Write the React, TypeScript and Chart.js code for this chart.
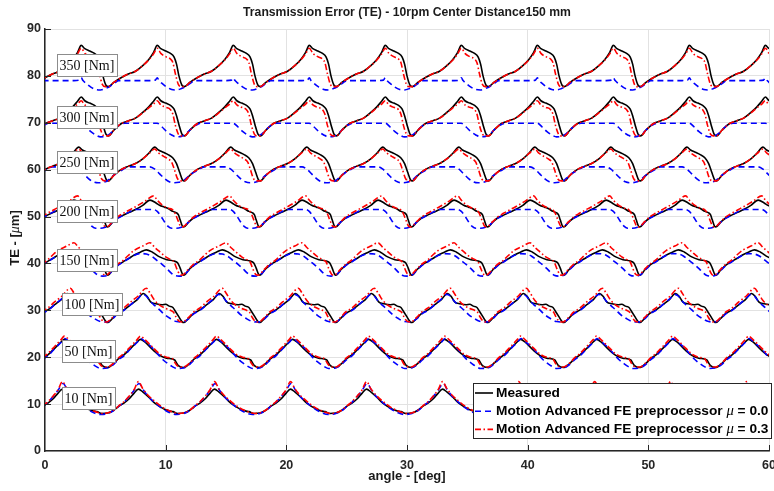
import { useEffect, useRef } from 'react';
import { Chart, registerables } from 'chart.js';
Chart.register(...registerables);

// ---- data ----
const PITCH_DEG = 6.3; // tooth pitch, the curves repeat every tooth
const X_MIN = 0, X_MAX = 60, Y_MIN = 0, Y_MAX = 90;

const LOAD_LABELS = ['350 [Nm]', '300 [Nm]', '250 [Nm]', '200 [Nm]', '150 [Nm]', '100 [Nm]', '50 [Nm]', '10 [Nm]'];
const LABEL_X = [0.97, 0.97, 0.97, 0.97, 0.97, 1.38, 1.38, 1.38];
const LABEL_Y = [82.3, 71.2, 61.7, 51.2, 40.8, 31.4, 21.3, 11.3];

// one tooth profile per series: [phase deg, TE um]
const measured350 = [[0.0,79.6],[0.6,80.4],[1.2,81.0],[1.8,82.2],[2.3,83.5],[2.7,85.0],[3.0,86.5],[3.3,85.8],[3.7,85.3],[4.1,84.8],[4.4,84.0],[4.6,82.5],[4.8,80.0],[5.05,78.0],[5.25,77.7],[5.7,78.6]];
const mu03_350 = [[0.0,79.6],[0.6,80.4],[1.2,81.0],[1.8,82.2],[2.3,83.4],[2.7,84.7],[3.0,85.9],[3.3,84.8],[3.7,84.1],[4.1,83.6],[4.3,82.8],[4.5,80.5],[4.75,78.2],[5.0,77.7],[5.25,77.7],[5.7,78.6]];
const mu00_350 = [[0.0,79.0],[0.6,79.0],[1.2,79.0],[1.8,79.0],[2.4,79.0],[2.85,79.1],[3.0,79.6],[3.15,79.0],[3.4,78.4],[3.8,77.6],[4.2,77.1],[4.6,77.0],[5.0,77.3],[5.4,77.8],[5.8,78.5],[6.1,79.0]];

const measured300 = [[0.0,69.8],[0.6,70.4],[1.2,71.0],[1.8,72.2],[2.3,73.4],[2.7,74.6],[3.0,75.5],[3.3,74.7],[3.7,74.2],[4.1,73.7],[4.4,72.9],[4.6,71.5],[4.8,69.6],[5.05,67.6],[5.25,67.2],[5.7,68.4]];
const mu03_300 = [[0.0,69.8],[0.6,70.4],[1.2,71.0],[1.8,72.1],[2.3,73.2],[2.7,74.0],[3.0,74.7],[3.3,73.8],[3.7,73.3],[4.1,72.8],[4.3,71.8],[4.5,69.5],[4.75,67.6],[5.0,67.2],[5.25,67.2],[5.7,68.4]];
const mu00_300 = [[0.0,69.6],[0.3,69.9],[1.2,69.9],[2.4,69.9],[3.0,69.9],[3.4,69.1],[3.8,68.1],[4.2,67.4],[4.6,67.0],[5.0,67.1],[5.4,67.7],[5.8,68.7],[6.1,69.4]];

const measured250 = [[0.0,60.0],[0.6,60.7],[1.2,61.3],[1.8,62.3],[2.3,63.5],[2.8,64.8],[3.1,64.2],[3.5,63.7],[3.9,63.2],[4.3,62.5],[4.6,61.3],[4.85,59.5],[5.1,57.8],[5.25,57.6],[5.7,58.8]];
const mu03_250 = [[0.0,60.0],[0.6,60.7],[1.2,61.3],[1.8,62.3],[2.3,63.4],[2.8,64.4],[3.1,63.6],[3.5,62.9],[3.9,62.3],[4.2,61.6],[4.4,60.2],[4.7,58.0],[5.0,57.6],[5.25,57.6],[5.7,58.8]];
const mu00_250 = [[0.0,59.8],[0.3,60.3],[0.6,60.6],[1.5,60.6],[2.4,60.6],[2.8,60.1],[3.2,59.1],[3.6,58.1],[4.0,57.4],[4.4,57.2],[4.8,57.3],[5.2,57.7],[5.6,58.6],[6.0,59.4]];

const measured200 = [[0.2,50.3],[0.7,50.9],[1.2,51.5],[1.8,52.4],[2.4,53.5],[2.9,52.9],[3.2,52.4],[3.6,52.0],[3.9,51.7],[4.3,51.1],[4.6,50.8],[4.75,50.4],[4.9,49.3],[5.1,47.9],[5.2,47.8],[5.6,48.8],[6.0,49.7]];
const mu03_200 = [[0.2,50.7],[0.7,51.4],[1.2,52.1],[2.0,53.3],[2.7,54.4],[3.0,53.5],[3.4,52.5],[3.9,51.8],[4.3,51.4],[4.5,50.6],[4.7,49.3],[4.95,47.9],[5.1,47.8],[5.6,48.9],[6.0,49.9]];
const mu00_200 = [[0.2,50.3],[0.7,51.0],[1.1,51.5],[1.9,51.5],[2.7,51.5],[3.0,51.1],[3.3,50.1],[3.6,48.9],[3.9,47.9],[4.2,47.5],[4.6,47.5],[5.0,47.7],[5.3,48.1],[5.6,48.8],[6.0,49.6]];

const measured150 = [[0.2,40.4],[0.6,41.0],[1.1,41.8],[1.6,42.4],[2.1,42.9],[2.6,42.4],[3.2,41.4],[3.8,40.8],[4.4,40.5],[4.7,40.1],[4.9,39.0],[5.1,37.7],[5.2,37.5],[5.6,38.6],[6.0,39.6]];
const mu03_150 = [[0.2,40.7],[0.6,41.7],[1.1,42.8],[1.8,43.7],[2.4,44.4],[2.8,43.4],[3.2,42.5],[3.7,41.4],[4.2,40.7],[4.4,40.3],[4.6,39.0],[4.85,37.7],[5.05,37.5],[5.6,38.8],[6.0,39.8]];
const mu00_150 = [[0.2,40.3],[0.6,41.0],[1.0,41.6],[1.6,42.1],[2.1,42.0],[2.5,41.6],[2.95,40.7],[3.4,39.8],[3.8,38.9],[4.1,38.1],[4.4,37.5],[4.8,37.3],[5.2,37.5],[5.6,38.5],[6.0,39.5]];

const measured100 = [[0.24,30.1],[0.8,31.2],[1.35,32.3],[1.85,33.6],[2.15,33.0],[2.45,31.8],[2.9,31.4],[3.4,31.2],[3.7,31.3],[4.0,30.9],[4.3,30.6],[4.5,29.8],[4.8,28.6],[5.05,27.6],[5.2,27.4],[5.6,28.3],[6.0,29.3]];
const mu03_100 = [[0.24,30.5],[0.8,31.8],[1.4,33.0],[2.1,34.7],[2.4,33.7],[2.8,32.1],[3.2,31.1],[3.7,30.4],[4.1,30.0],[4.35,29.6],[4.55,28.6],[4.8,27.7],[5.1,27.5],[5.6,28.5],[6.0,29.6]];
const mu00_100 = [[0.24,30.0],[0.8,31.2],[1.35,32.4],[1.8,33.4],[2.1,33.0],[2.4,32.0],[2.8,31.0],[3.2,30.1],[3.6,29.1],[4.05,28.3],[4.6,27.6],[5.1,27.5],[5.6,28.2],[6.0,29.2]];

const measured50 = [[0.24,20.5],[0.8,21.9],[1.35,23.3],[1.6,23.8],[2.0,23.2],[2.67,21.5],[3.2,20.4],[3.78,19.8],[4.45,19.4],[4.6,18.8],[4.75,18.2],[5.16,17.8],[5.7,18.7],[6.1,19.7]];
const mu03_50 = [[0.24,20.8],[0.8,22.3],[1.35,23.8],[1.6,24.5],[2.0,23.7],[2.67,22.0],[3.2,20.7],[3.78,20.0],[4.3,19.6],[4.5,18.7],[4.7,18.1],[5.16,17.9],[5.7,18.8],[6.1,19.9]];
const mu00_50 = [[0.24,20.3],[0.8,21.8],[1.35,23.2],[1.65,24.0],[2.0,23.3],[2.67,21.8],[3.1,20.5],[3.5,19.4],[3.9,18.6],[4.25,18.0],[4.6,17.6],[5.16,17.7],[5.7,18.5],[6.1,19.5]];

const measured10 = [[0.24,10.2],[0.7,11.2],[1.07,12.3],[1.45,13.2],[1.8,12.6],[2.4,11.2],[2.8,10.2],[3.22,9.45],[3.6,8.9],[4.05,8.5],[4.3,8.4],[4.7,8.0],[5.2,8.1],[5.7,8.7],[6.1,9.5]];
const mu03_10 = [[0.24,10.5],[0.7,11.8],[1.07,13.0],[1.45,14.8],[1.8,13.3],[2.2,12.0],[2.8,10.6],[3.4,9.4],[4.0,8.6],[4.4,8.2],[4.8,8.0],[5.3,8.2],[5.8,8.9],[6.1,9.6]];
const mu00_10 = [[0.24,10.4],[0.7,11.7],[1.07,12.9],[1.5,14.4],[1.85,13.0],[2.2,11.8],[2.8,10.3],[3.4,9.1],[4.0,8.2],[4.6,7.8],[5.2,8.0],[5.8,8.8],[6.1,9.5]];

const MEASURED = [measured350, measured300, measured250, measured200, measured150, measured100, measured50, measured10];
const MU00 = [mu00_350, mu00_300, mu00_250, mu00_200, mu00_150, mu00_100, mu00_50, mu00_10];
const MU03 = [mu03_350, mu03_300, mu03_250, mu03_200, mu03_150, mu03_100, mu03_50, mu03_10];

const LEGEND_LABELS = ['Measured', 'Motion Advanced FE preprocessor ', 'Motion Advanced FE preprocessor '];
const LEGEND_MU = ['', ' = 0.0', ' = 0.3'];

const TITLE = 'Transmission Error (TE) - 10rpm Center Distance150 mm';
const X_TITLE = 'angle - [deg]';

// ---- styles ----
const C_MEAS = '#000000';
const C_MU0 = '#0000ff';
const C_MU3 = '#ff0000';
const DASH_MU0 = [6, 4];
const DASH_MU3 = [6, 2.5, 1.5, 2.5];
const AXIS = '#262626';
const SANS = '"Liberation Sans", Arial, sans-serif';
const SERIF = '"Liberation Serif", "Times New Roman", serif';

function tile(profile: number[][]) {
  const pts: { x: number; y: number }[] = [];
  for (let k = -1; k <= 10; k++) {
    for (const [ph, v] of profile) {
      const x = ph + k * PITCH_DEG;
      if (x >= X_MIN - 1.5 && x <= X_MAX + 1.5) pts.push({ x: Math.round(x * 1000) / 1000, y: v });
    }
  }
  return pts;
}

function drawMuText(ctx: CanvasRenderingContext2D, x: number, y: number, pre: string, post: string, size: number) {
  ctx.font = `bold ${size}px ${SANS}`;
  ctx.fillText(pre, x, y);
  let cx = x + ctx.measureText(pre).width;
  ctx.font = `italic ${size + 1}px ${SERIF}`;
  ctx.fillText('\u03bc', cx, y);
  cx += ctx.measureText('\u03bc').width;
  ctx.font = `bold ${size}px ${SANS}`;
  ctx.fillText(post, cx, y);
}

const decor = {
  id: 'decor',
  afterDatasetsDraw(chart: any) {
    const { ctx, chartArea: a, scales } = chart;
    const xs = scales.x, ys = scales.y;
    ctx.save();
    // inward ticks
    ctx.strokeStyle = AXIS;
    ctx.lineWidth = 1;
    ctx.setLineDash([]);
    ctx.beginPath();
    for (let v = X_MIN + 10; v <= X_MAX; v += 10) {
      const px = Math.round(xs.getPixelForValue(v)) + 0.5;
      ctx.moveTo(px, a.bottom);
      ctx.lineTo(px, a.bottom - 6);
    }
    for (let v = Y_MIN + 10; v <= Y_MAX; v += 10) {
      const py = Math.round(ys.getPixelForValue(v)) + 0.5;
      ctx.moveTo(a.left, py);
      ctx.lineTo(a.left + 6, py);
    }
    ctx.stroke();

    // load label boxes
    ctx.font = `14px ${SERIF}`;
    ctx.textBaseline = 'middle';
    ctx.textAlign = 'left';
    LOAD_LABELS.forEach((t, i) => {
      const tw = ctx.measureText(t).width;
      const left = Math.round(xs.getPixelForValue(LABEL_X[i]));
      const cy = Math.round(ys.getPixelForValue(LABEL_Y[i]));
      const w = Math.round(tw + 5), h = 22;
      ctx.fillStyle = '#ffffff';
      ctx.fillRect(left, cy - h / 2, w, h);
      ctx.strokeStyle = '#8c8c8c';
      ctx.lineWidth = 1;
      ctx.strokeRect(left + 0.5, cy - h / 2 + 0.5, w, h);
      ctx.fillStyle = '#111111';
      ctx.fillText(t, left + 2.5, cy + 1);
    });

    // legend
    const lw = 298, lh = 55;
    const lx = a.right - lw + 2, ly = a.bottom - 68;
    ctx.fillStyle = '#ffffff';
    ctx.fillRect(lx, ly, lw, lh);
    ctx.strokeStyle = AXIS;
    ctx.lineWidth = 1;
    ctx.strokeRect(lx + 0.5, ly + 0.5, lw, lh);
    const colors = [C_MEAS, C_MU0, C_MU3];
    const dashes = [[], DASH_MU0, DASH_MU3];
    for (let i = 0; i < 3; i++) {
      const yy = ly + 10 + i * 18.2;
      ctx.strokeStyle = colors[i];
      ctx.lineWidth = 1.6;
      ctx.setLineDash(dashes[i]);
      ctx.beginPath();
      ctx.moveTo(lx + 2, yy);
      ctx.lineTo(lx + 20, yy);
      ctx.stroke();
      ctx.setLineDash([]);
      ctx.fillStyle = '#000000';
      ctx.textBaseline = 'middle';
      if (i === 0) {
        ctx.font = `bold 13.7px ${SANS}`;
        ctx.fillText(LEGEND_LABELS[i], lx + 23, yy);
      } else {
        drawMuText(ctx, lx + 23, yy, LEGEND_LABELS[i], LEGEND_MU[i], 13.7);
      }
    }

    // titles
    ctx.fillStyle = '#1a1a1a';
    ctx.textAlign = 'center';
    ctx.textBaseline = 'middle';
    ctx.font = `bold 12.2px ${SANS}`;
    ctx.fillText(TITLE, (a.left + a.right) / 2, 13);
    ctx.font = `bold 13px ${SANS}`;
    ctx.fillText(X_TITLE, (a.left + a.right) / 2, 476);
    // y title
    ctx.save();
    ctx.translate(15, (a.top + a.bottom) / 2 - 2);
    ctx.rotate(-Math.PI / 2);
    ctx.textAlign = 'left';
    ctx.font = `bold 13px ${SANS}`;
    const p1 = 'TE - [', p3 = 'm]';
    const w1 = ctx.measureText(p1).width;
    ctx.font = `italic 14px ${SERIF}`;
    const w2 = ctx.measureText('\u03bc').width;
    ctx.font = `bold 13px ${SANS}`;
    const w3 = ctx.measureText(p3).width;
    const total = w1 + w2 + w3;
    drawMuText(ctx, -total / 2, 0, p1, p3, 13);
    ctx.restore();
    ctx.restore();
  },
};

export default function App() {
  const ref = useRef<HTMLCanvasElement | null>(null);
  useEffect(() => {
    if (!ref.current) return;
    const datasets: any[] = [];
    const base = { pointRadius: 0, borderWidth: 1.6, fill: false, cubicInterpolationMode: 'monotone' };
    MU03.forEach((p, i) => datasets.push({ ...base, label: 'mu03 ' + LOAD_LABELS[i], data: tile(p), borderColor: C_MU3, borderDash: DASH_MU3 }));
    MU00.forEach((p, i) => datasets.push({ ...base, label: 'mu00 ' + LOAD_LABELS[i], data: tile(p), borderColor: C_MU0, borderDash: DASH_MU0 }));
    MEASURED.forEach((p, i) => datasets.push({ ...base, label: 'meas ' + LOAD_LABELS[i], data: tile(p), borderColor: C_MEAS }));
    const tickFont = { family: SANS, size: 12.5, weight: 'bold' as const };
    const chart = new Chart(ref.current, {
      type: 'line',
      data: { datasets },
      options: {
        animation: false,
        responsive: false,
        devicePixelRatio: 1,
        events: [],
        layout: { padding: { top: 29, right: 5, left: 0, bottom: 0 } },
        plugins: { legend: { display: false }, title: { display: false }, tooltip: { enabled: false } },
        scales: {
          x: {
            type: 'linear', min: X_MIN, max: X_MAX,
            ticks: { stepSize: 10, padding: 7, color: AXIS, font: tickFont, maxRotation: 0 },
            grid: { color: '#e2e2e2', lineWidth: 1, drawTicks: false },
            border: { color: AXIS, width: 1.5 },
            afterFit: (s: any) => { s.height = 40; s.paddingLeft = 0; s.paddingRight = 0; },
          },
          y: {
            type: 'linear', min: Y_MIN, max: Y_MAX,
            ticks: { stepSize: 10, padding: 4, color: AXIS, font: tickFont },
            grid: { color: '#e2e2e2', lineWidth: 1, drawTicks: false },
            border: { color: AXIS, width: 1.5 },
            afterFit: (s: any) => { s.width = 45; s.paddingTop = 0; s.paddingBottom = 0; },
          },
        },
      },
      plugins: [decor],
    } as any);
    return () => chart.destroy();
  }, []);
  return (
    <div style={{ position: 'absolute', left: 0, top: 0, width: 774, height: 491, background: '#fff' }}>
      <canvas ref={ref} width={774} height={491} style={{ width: 774, height: 491, display: 'block' }} />
    </div>
  );
}
